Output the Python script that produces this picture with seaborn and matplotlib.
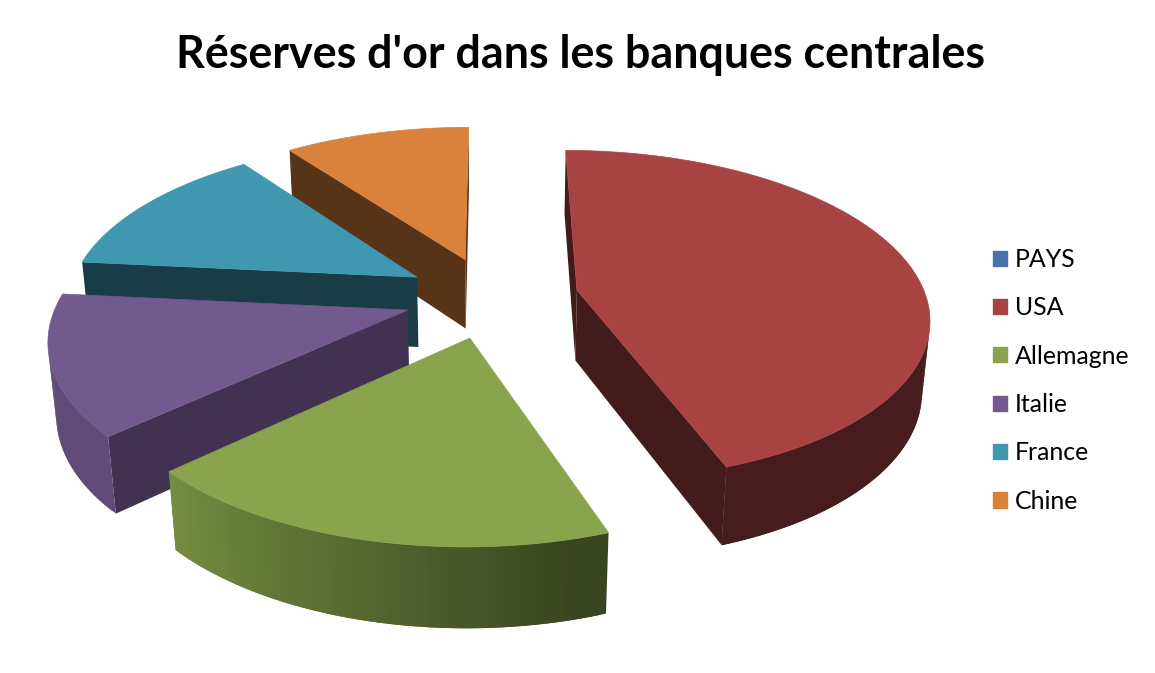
import numpy as np
import matplotlib
matplotlib.use("Agg")
import matplotlib.pyplot as plt
from matplotlib.patches import Polygon, Patch
import seaborn as sns

# ========== DATA ==========
title = "Réserves d'or dans les banques centrales"
pays = ["PAYS", "USA", "Allemagne", "Italie", "France", "Chine"]
reserves = [0, 8133, 3387, 2451, 2435, 1842]
couleurs = ["#4674AA", "#A74443", "#89A44C", "#725A8F", "#4097B0", "#DA813C"]

# ========== VIEW ==========
cx, cy = 491.5, 297
scale = 349
sin_e, cos_e = 0.467, 0.897
persp = 0.17
height = 0.23
explode = 0.25
W, H = 1155, 673

sns.set_theme(style="white")
plt.rcParams["font.family"] = ["Lato", "DejaVu Sans"]


def project(x, y, z):
    w = 1 - persp * (y * cos_e + z * sin_e)
    return cx + scale * x / w, cy + scale * (y * sin_e - z * cos_e) / w


def area(pts):
    xs, ys = np.array(pts).T
    return 0.5 * np.sum(xs * np.roll(ys, -1) - np.roll(xs, -1) * ys)


def face(ax, pts, color, z):
    # only faces turned towards the viewer are drawn
    if area(pts) < 0:
        ax.add_patch(Polygon(pts, closed=True, fc=color, ec="none", zorder=z))


fig, ax = plt.subplots(figsize=(W / 100, H / 100), dpi=100)
ax.set_position([0, 0, 1, 1])
ax.set_xlim(0, W)
ax.set_ylim(H, 0)
ax.axis("off")

total = sum(reserves)
stops = np.cumsum([0] + reserves) / total * 2 * np.pi
order = {"Chine": 1, "France": 2, "USA": 3, "Italie": 4, "Allemagne": 5}

for i, name in enumerate(pays):
    if reserves[i] == 0:
        continue
    a0, a1 = stops[i], stops[i + 1]
    mid = (a0 + a1) / 2
    ox, oy = explode * np.sin(mid), -explode * np.cos(mid)
    angles = np.linspace(a0, a1, max(int((a1 - a0) * 60), 8))
    rim = [(ox + np.sin(a), oy - np.cos(a)) for a in angles]
    base = couleurs[i]
    shades = sns.blend_palette(["#000000", base], 256)
    wall = shades[143] if name == "Italie" else shades[102]
    z = order[name] * 10

    top = [project(ox, oy, 0)] + [project(x, y, 0) for x, y in rim]
    tip_t, tip_b = project(ox, oy, 0), project(ox, oy, -height)

    # cut faces
    s_t, s_b = project(*rim[0], 0), project(*rim[0], -height)
    e_t, e_b = project(*rim[-1], 0), project(*rim[-1], -height)
    face(ax, [tip_t, s_t, s_b, tip_b], wall, z)
    face(ax, [e_t, tip_t, tip_b, e_b], wall, z)

    # outer side, dark on the right and lighter on the left
    # each strip runs over the next one so no seams show
    for k in range(len(rim) - 1):
        deg = np.degrees((angles[k] + angles[k + 1]) / 2)
        t = np.clip((deg - 165) / (225 - 165), 0, 1)
        shade = 0.42 + 0.43 * t
        n = min(k + 3, len(rim))
        arc = rim[k:n]
        strip = [project(x, y, 0) for x, y in arc] + [project(x, y, -height) for x, y in arc[::-1]]
        face(ax, strip, shades[int(shade * 255)], z + 1)

    ax.add_patch(Polygon(top, closed=True, fc=base, ec=base, lw=0.5, zorder=z + 2))

ax.text(580, 55, title, ha="center", va="center", fontsize=32.3, fontweight="bold", color="black")

handles = [Patch(fc=c, ec=c, label=p) for p, c in zip(pays, couleurs)]
ax.legend(handles=handles, loc="upper left", bbox_to_anchor=(0.8597, 0.6315), frameon=False,
          fontsize=17.9, handlelength=0.56, handleheight=0.56, handletextpad=0.33,
          labelspacing=1.02, labelcolor="black", borderpad=0, borderaxespad=0)

plt.savefig("out.png", dpi=100)
plt.close()
